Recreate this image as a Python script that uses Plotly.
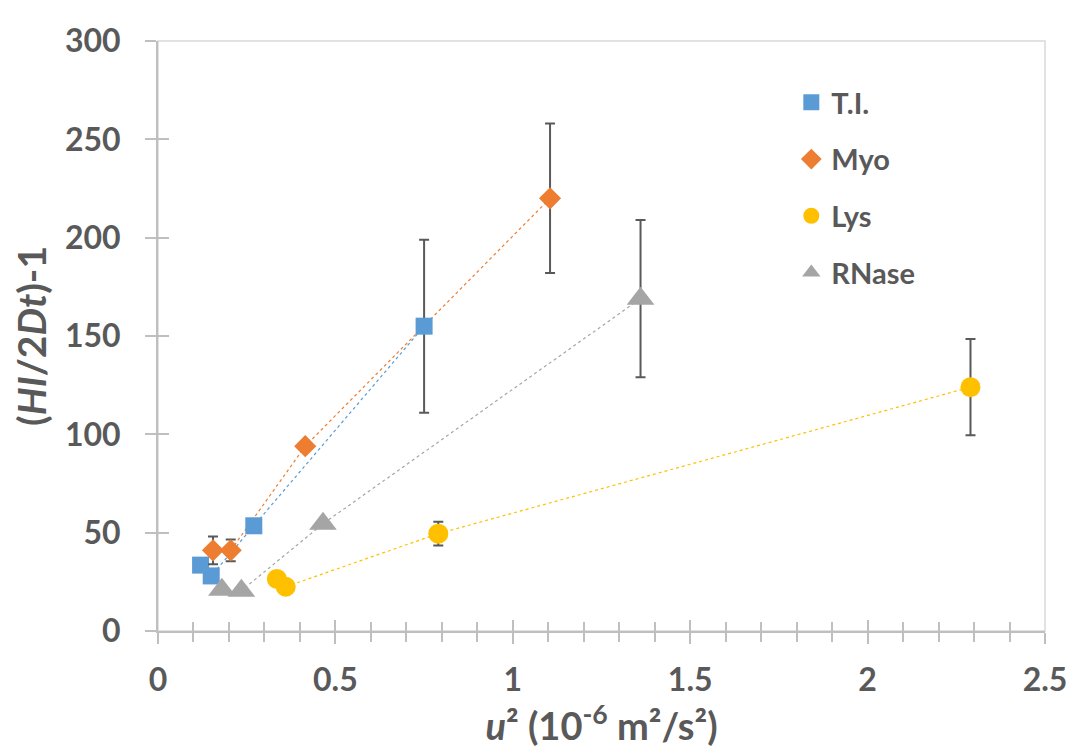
import plotly.graph_objects as go

# ---- data ----
ti_x = [0.12, 0.15, 0.27, 0.75]
ti_y = [33.5, 28, 53.5, 155]
ti_err = [0, 0, 0, 44]

myo_x = [0.155, 0.205, 0.415, 1.105]
myo_y = [41, 41, 94, 220]
myo_err = [7, 5.5, 0, 38]

lys_x = [0.335, 0.36, 0.79, 2.29]
lys_y = [26.5, 22.5, 49.5, 124]
lys_err = [0, 0, 6, 24.5]

rn_x = [0.18, 0.235, 0.465, 1.36]
rn_y = [21, 20.5, 54.5, 169]
rn_err = [0, 1, 1, 40]

series = [
    ("T.I.", ti_x, ti_y, ti_err, "#5B9BD5", "square", 17),
    ("Myo", myo_x, myo_y, myo_err, "#ED7D31", "diamond", 17),
    ("Lys", lys_x, lys_y, lys_err, "#FFC000", "circle", 20),
    ("RNase", rn_x, rn_y, rn_err, "#A5A5A5", "triangle-up", 24),
]

FONT = "Lato"
TXT = "#595959"
AX = "#BFBFBF"

fig = go.Figure()

# dotted connecting lines
for name, xs, ys, es, col, sym, sz in series:
    fig.add_trace(go.Scatter(
        x=xs, y=ys, mode="lines",
        line=dict(color=col, width=1.2, dash="dot"),
        showlegend=False, hoverinfo="skip",
    ))

# markers with error bars
for i, (name, xs, ys, es, col, sym, sz) in enumerate(series):
    fig.add_trace(go.Scatter(
        x=xs, y=ys, mode="markers", name=name,
        legendgroup=name,
        marker=dict(color=col, symbol=sym, size=sz, line=dict(width=0)),
        error_y=dict(type="data", array=es, visible=True,
                     color="#595959", thickness=2, width=5),
    ))

# invisible trace on overlay axes (for inside half of cross ticks)
fig.add_trace(go.Scatter(x=[0], y=[0], xaxis="x2", yaxis="y2",
                         mode="markers", marker=dict(opacity=0),
                         showlegend=False, hoverinfo="skip"))

fig.update_layout(
    width=1071, height=748,
    margin=dict(l=150, r=26, t=23, b=125),
    paper_bgcolor="white", plot_bgcolor="white",
    font=dict(family=FONT, color=TXT),
    xaxis=dict(
        range=[0, 2.5], dtick=0.5, tick0=0,
        showgrid=False, zeroline=False,
        showline=True, linecolor=AX, linewidth=2,
        ticks="outside", ticklen=11, tickwidth=1.5, tickcolor=AX,
        minor=dict(dtick=0.1, ticks="outside", ticklen=9, tickwidth=1.5, tickcolor=AX),
        tickfont=dict(size=32, family=FONT, color=TXT, weight="bold"),
        ticklabelstandoff=9,
        title=dict(text="<i>u</i>² (10<sup>-6</sup> m²/s²)",
                   font=dict(size=38, family=FONT, color=TXT, weight="bold"),
                   standoff=14),
    ),
    yaxis=dict(
        range=[0, 300], dtick=50, tick0=0,
        showgrid=False, zeroline=False,
        showline=True, linecolor=AX, linewidth=2,
        ticks="outside", ticklen=11, tickwidth=1.5, tickcolor=AX,
        tickfont=dict(size=32, family=FONT, color=TXT, weight="bold"),
        ticklabelstandoff=18,
        title=dict(text="(<i>HI</i>/2<i>Dt</i>)-1",
                   font=dict(size=39, family=FONT, color=TXT, weight="bold"),
                   standoff=8),
    ),
    xaxis2=dict(
        overlaying="x", matches="x", range=[0, 2.5], dtick=0.5, tick0=0,
        showgrid=False, zeroline=False, showline=False, showticklabels=False,
        ticks="inside", ticklen=11, tickwidth=1.5, tickcolor=AX,
        minor=dict(dtick=0.1, ticks="inside", ticklen=9, tickwidth=1.5, tickcolor=AX),
    ),
    yaxis2=dict(
        overlaying="y", matches="y", range=[0, 300], dtick=50, tick0=0,
        showgrid=False, zeroline=False, showline=False, showticklabels=False,
        ticks="inside", ticklen=11, tickwidth=1.5, tickcolor=AX,
    ),
    legend=dict(
        x=0.714, y=0.939, xanchor="left", yanchor="top",
        bgcolor="rgba(0,0,0,0)",
        font=dict(size=29, family=FONT, color=TXT, weight="bold"),
        tracegroupgap=16,
        itemsizing="trace",
    ),
    shapes=[dict(type="rect", xref="paper", yref="paper", x0=0, y0=0, x1=1, y1=1,
                 line=dict(color="#D9D9D9", width=1.5), layer="below")],
)

fig.write_html("out.html")
